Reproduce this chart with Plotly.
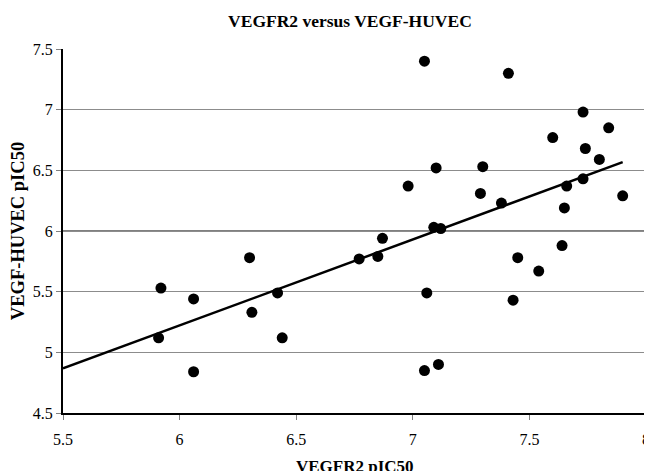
import numpy as np
import plotly.graph_objects as go

# VEGFR2 pIC50 (x) vs VEGF-HUVEC pIC50 (y)
vegfr2 = [5.92, 5.91, 6.06, 6.06, 6.30, 6.31, 6.42, 6.44, 6.77, 6.85,
          6.87, 7.06, 7.05, 7.11, 7.12, 7.09, 7.43, 7.45, 7.54, 7.64,
          7.05, 7.41, 7.73, 7.84, 7.60, 7.74, 7.80, 7.10, 7.30, 6.98,
          7.29, 7.38, 7.66, 7.73, 7.65, 7.90]
huvec = [5.53, 5.12, 5.44, 4.84, 5.78, 5.33, 5.49, 5.12, 5.77, 5.79,
         5.94, 5.49, 4.85, 4.90, 6.02, 6.03, 5.43, 5.78, 5.67, 5.88,
         7.40, 7.30, 6.98, 6.85, 6.77, 6.68, 6.59, 6.52, 6.53, 6.37,
         6.31, 6.23, 6.37, 6.43, 6.19, 6.29]

x_ticks = [5.5, 6, 6.5, 7, 7.5, 8]
y_ticks = [4.5, 5, 5.5, 6, 6.5, 7, 7.5]

title_text = "VEGFR2 versus VEGF-HUVEC"
x_title = "VEGFR2 pIC50"
y_title = "VEGF-HUVEC pIC50"

FONT = "Liberation Serif, Times New Roman, serif"

# linear trendline (least squares), extended back to the axis start
slope, intercept = np.polyfit(vegfr2, huvec, 1)
line_x = np.array([x_ticks[0], max(vegfr2)])
line_y = slope * line_x + intercept

fig = go.Figure()
fig.add_trace(go.Scatter(
    x=line_x, y=line_y, mode="lines",
    line=dict(color="black", width=2.5), hoverinfo="skip", showlegend=False))
fig.add_trace(go.Scatter(
    x=vegfr2, y=huvec, mode="markers",
    marker=dict(color="black", size=11, line=dict(width=0)), showlegend=False))

# darker grid line at 6 as in the reference
fig.add_shape(type="line", xref="paper", x0=0, x1=1, yref="y", y0=6, y1=6,
              line=dict(color="black", width=1), layer="below")

# x-axis title placed as an annotation (sits at the very bottom edge)
fig.add_annotation(text="<b>" + x_title + "</b>", xref="paper", yref="paper",
                   x=0.5, y=0, xanchor="center", yanchor="middle",
                   yshift=-53, showarrow=False,
                   font=dict(family=FONT, size=17, color="black"))

# page body has an 8px default margin, so the figure is sized to the visible area
fig.update_layout(
    width=644, height=463,
    margin=dict(l=55, r=6, t=41, b=58, autoexpand=False),
    paper_bgcolor="white", plot_bgcolor="white",
    font=dict(family=FONT, color="black", size=16),
    title=dict(text="<b>" + title_text + "</b>", x=0.531, xanchor="center",
               y=0.972, yanchor="middle", automargin=False,
               font=dict(family=FONT, size=17.5, color="black")),
)
fig.update_xaxes(
    range=[x_ticks[0], x_ticks[-1]], tickvals=x_ticks,
    ticktext=[f"{v:g}" for v in x_ticks],
    showgrid=False, zeroline=False, automargin=False,
    showline=True, linecolor="black", linewidth=2,
    ticks="outside", ticklen=5, tickcolor="#808080", tickwidth=1,
    ticklabelstandoff=6, ticklabeloverflow="allow",
    tickfont=dict(family=FONT, size=16, color="black"),
)
fig.update_yaxes(
    range=[y_ticks[0], y_ticks[-1]], tickvals=y_ticks,
    ticktext=[f"{v:g}" for v in y_ticks],
    showgrid=True, gridcolor="#8c8c8c", gridwidth=1, zeroline=False,
    automargin=False,
    showline=True, linecolor="black", linewidth=2, mirror=True,
    ticks="outside", ticklen=5, tickcolor="#808080", tickwidth=1,
    tickfont=dict(family=FONT, size=16, color="black"),
    title=dict(text="<b>" + y_title + "</b>", standoff=5,
               font=dict(family=FONT, size=18.5, color="black")),
)

fig.write_html("out.html")
